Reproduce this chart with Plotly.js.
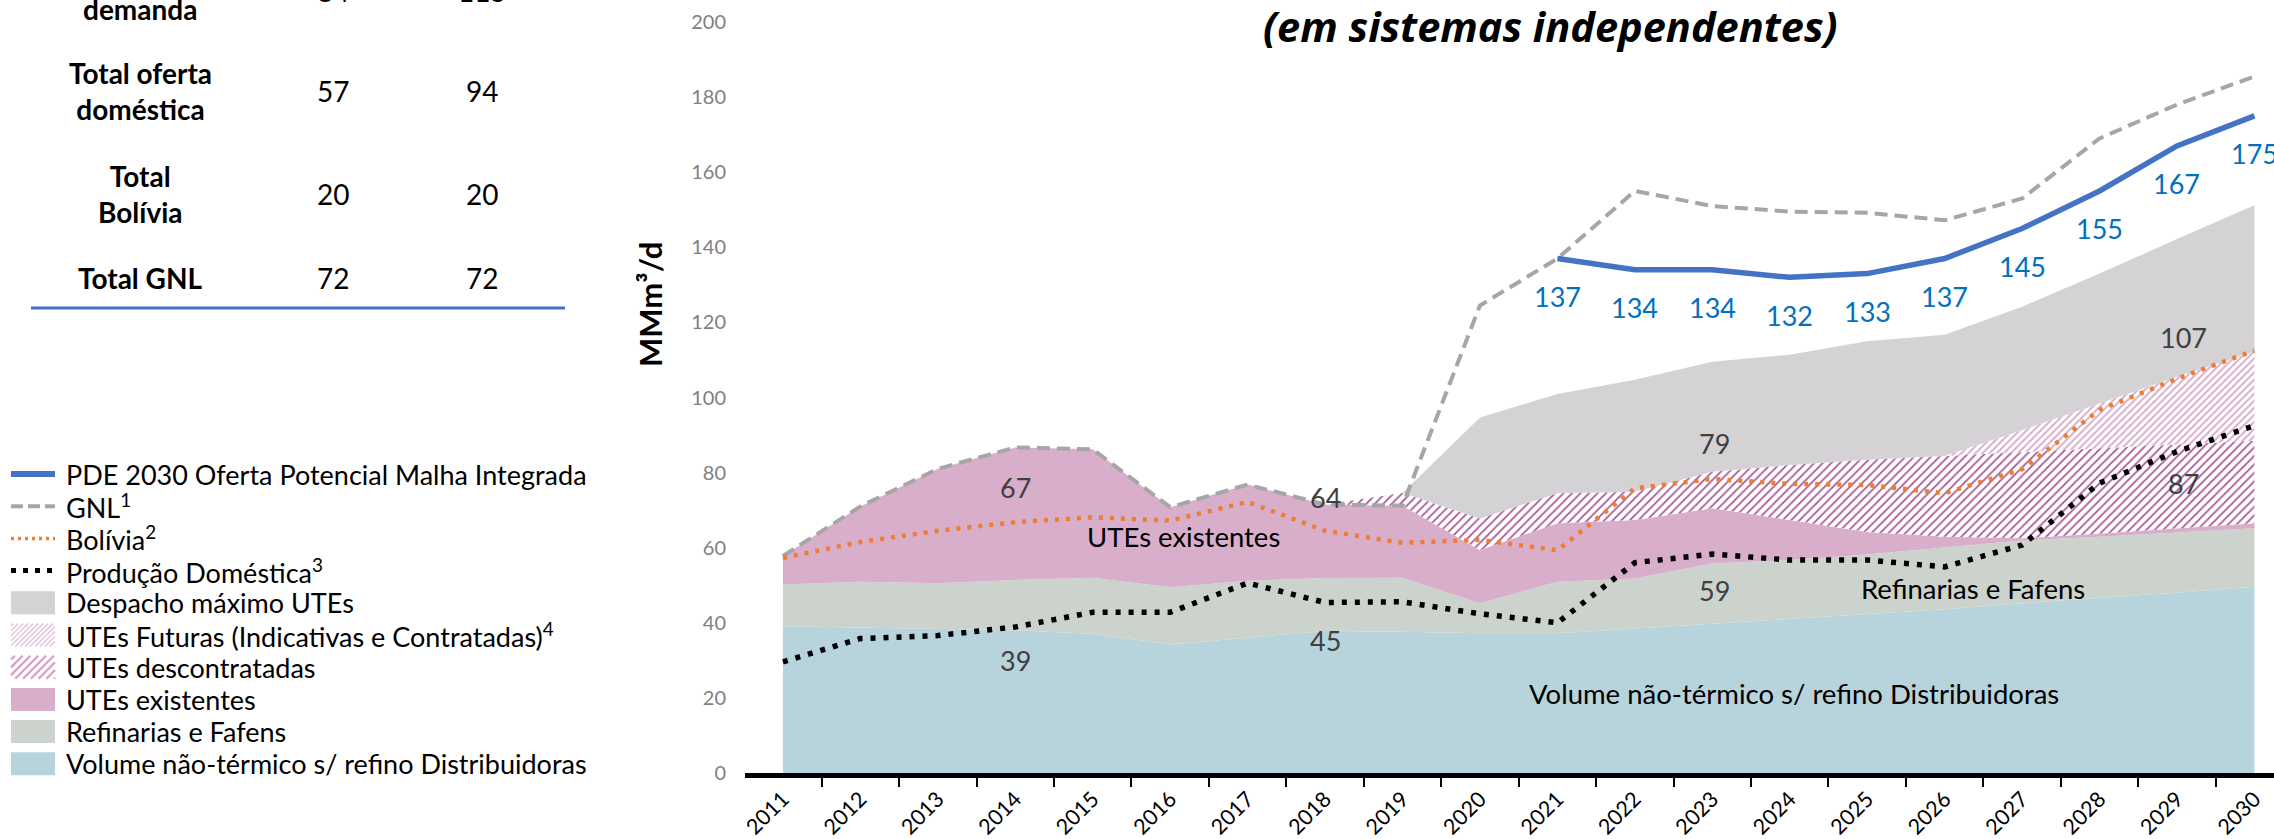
<!DOCTYPE html>
<html>
<head>
<meta charset="utf-8">
<script src="https://cdn.plot.ly/plotly-3.0.1.min.js"></script>
<style>
html,body{margin:0;padding:0;background:#ffffff;}
#chart{width:2274px;height:839px;}
</style>
</head>
<body>
<div id="chart"></div>
<script>
// ---------------- DATA ----------------
const years = ['2011','2012','2013','2014','2015','2016','2017','2018','2019','2020',
               '2021','2022','2023','2024','2025','2026','2027','2028','2029','2030'];

// stacked areas: cumulative top of each layer (MMm³/d)
const volumeTop        = [39.1,38.7,38.2,38.0,37.1,34.2,36.0,37.8,37.6,37.2,37.2,38.5,39.6,40.9,42.2,43.6,45.2,46.5,48.0,49.6];
const refinariasTop    = [50.2,50.9,50.5,51.4,52.0,49.5,51.2,51.9,52.0,45.2,50.9,51.8,55.8,56.7,58.2,60.0,61.9,62.9,64.0,65.2];
const existentesTop    = [57.8,71.0,81.0,86.7,86.2,70.8,76.8,71.5,71.2,59.4,66.5,67.4,70.5,67.4,64.2,62.9,62.5,63.8,65.2,66.5];
const descontratadasTop= [57.8,71.0,81.0,86.7,86.2,70.8,76.8,71.5,74.6,67.8,74.5,74.9,80.2,82.0,83.4,84.5,85.5,86.5,87.5,88.5];
const futurasTop       = [57.8,71.0,81.0,86.7,86.2,70.8,76.8,71.5,74.6,67.8,74.5,74.9,80.2,82.0,83.4,84.5,91.3,98.5,105.5,112.2];
const despachoTop      = [57.8,71.0,81.0,86.7,86.2,70.8,76.8,71.5,74.6,94.7,100.9,104.7,109.5,111.4,115.0,116.7,124.2,133.0,142.2,151.2];

// supply lines (cumulative)
const gnl       = [57.8,71.0,81.0,86.7,86.2,70.8,76.8,71.5,71.2,124.5,137.0,155.0,151.0,149.5,149.2,147.2,153.0,169.0,178.0,185.5];
const bolivia   = [57.3,61.5,64.5,66.8,68.1,67.2,72.2,64.5,61.3,62.1,59.3,75.8,78.3,77.0,76.7,74.5,80.9,96.7,105.0,112.5];
const producao  = [29.6,35.8,36.6,38.9,42.8,42.8,50.6,45.4,45.6,42.4,40.0,56.0,58.3,56.7,56.7,54.9,60.7,77.2,85.6,92.5];
const pdeYears  = ['2021','2022','2023','2024','2025','2026','2027','2028','2029','2030'];
const pde       = [137,134,134,132,133,137,145,155,167,175];

// table
const tableRows = ['Total<br>demanda','Total oferta<br>doméstica','Total<br>Bolívia','Total GNL'];
const tableCol1 = ['84','57','20','72'];
const tableCol2 = ['115','94','20','72'];

// in-chart labels (x as category index, y in MMm³/d)
const noteTexts = ['67','64','UTEs existentes','39','45','79','59','Refinarias e Fafens',
                   'Volume não-térmico s/ refino Distribuidoras','107','87'];
const noteX     = [3.0,7.0,5.17,3.0,7.0,12.03,12.03,15.36,13.05,18.08,18.08];
const noteY     = [76,73.5,63.1,30,35.3,87.7,48.6,49.2,21.2,116,77];

// legend
const legendLabels = ['PDE 2030 Oferta Potencial Malha Integrada','GNL<sup>1</sup>','Bolívia<sup>2</sup>',
  'Produção Doméstica<sup>3</sup>','Despacho máximo UTEs','UTEs Futuras (Indicativas e Contratadas)<sup>4</sup>',
  'UTEs descontratadas','UTEs existentes','Refinarias e Fafens','Volume não-térmico s/ refino Distribuidoras'];

// ---------------- STYLE ----------------
const W = 2274, H = 839;
const PX = x => x / W;
const PY = y => 1 - y / H;
const FONT = 'Lato, "Open Sans", sans-serif';
const C = {
  volume:'#b7d4dc', refin:'#ccd3cc', exist:'#d9aecb', despacho:'#d4d2d4',
  desc:'#a95896', fut:'#d8a8ca', gnl:'#a6a6a6', bol:'#ed7d31', prod:'#000000', pde:'#4472c4',
  pdeText:'#0070c0', note:'#404040'
};

function area(y, fill, color, pattern){
  const t = {x:years, y:y, type:'scatter', mode:'lines', line:{width:0, color:color},
             fill:fill, fillcolor:color, hoverinfo:'skip'};
  if (pattern) t.fillpattern = pattern;
  return t;
}

const traces = [
  area(volumeTop,'tozeroy',C.volume),
  area(refinariasTop,'tonexty',C.refin),
  area(existentesTop,'tonexty',C.exist),
  area(descontratadasTop,'tonexty','#ffffff',{shape:'/',fgcolor:C.desc,bgcolor:'#ffffff',size:6,solidity:0.3}),
  area(futurasTop,'tonexty','#ffffff',{shape:'/',fgcolor:C.fut,bgcolor:'#ffffff',size:5,solidity:0.35}),
  area(despachoTop,'tonexty',C.despacho),
  {x:years, y:gnl, type:'scatter', mode:'lines', line:{color:C.gnl,width:4,dash:'13px,7px'}, hoverinfo:'skip'},
  {x:years, y:bolivia, type:'scatter', mode:'lines', line:{color:C.bol,width:4.5,dash:'4px,7px'}, hoverinfo:'skip'},
  {x:years, y:producao, type:'scatter', mode:'lines', line:{color:C.prod,width:5.5,dash:'5px,8px'}, hoverinfo:'skip'},
  {x:pdeYears, y:pde, type:'scatter', mode:'lines', line:{color:C.pde,width:5.5}, hoverinfo:'skip'}
];

const annotations = [];
const shapes = [];

// blue PDE labels (category index of each year)
pde.forEach((v,i)=>{
  annotations.push({x:years.indexOf(pdeYears[i]), y:v, xref:'x', yref:'y', text:String(v), showarrow:false,
    yshift:-38, font:{family:FONT,size:27,color:C.pdeText}});
});
// other chart labels
noteTexts.forEach((t,i)=>{
  const isNum = /^\d+$/.test(t);
  annotations.push({x:noteX[i], y:noteY[i], xref:'x', yref:'y', text:t, showarrow:false,
    font:{family:FONT,size:isNum?27:27.5,color:isNum?C.note:'#000000'}});
});

// title
annotations.push({x:PX(1550), y:PY(26), xref:'paper', yref:'paper', xanchor:'center', yanchor:'middle',
  text:'<b><i>(em sistemas independentes)</i></b>', showarrow:false,
  font:{family:'"Open Sans", Lato, sans-serif',size:41.5,color:'#000000'}});
// y axis title
annotations.push({x:PX(650), y:PY(305), xref:'paper', yref:'paper', xanchor:'center', yanchor:'middle',
  text:'<b>MMm³/d</b>', textangle:-90, showarrow:false, font:{family:FONT,size:31,color:'#000000'}});

// table
const rowCenters = [-9, 91, 194, 278];
tableRows.forEach((r,i)=>{
  annotations.push({x:PX(140), y:PY(rowCenters[i]), xref:'paper', yref:'paper', xanchor:'center', yanchor:'middle',
    text:'<b>'+r+'</b>', showarrow:false, align:'center', font:{family:FONT,size:28,color:'#000000'}});
  annotations.push({x:PX(333), y:PY(rowCenters[i]), xref:'paper', yref:'paper', xanchor:'center', yanchor:'middle',
    text:tableCol1[i], showarrow:false, font:{family:FONT,size:28,color:'#000000'}});
  annotations.push({x:PX(482), y:PY(rowCenters[i]), xref:'paper', yref:'paper', xanchor:'center', yanchor:'middle',
    text:tableCol2[i], showarrow:false, font:{family:FONT,size:28,color:'#000000'}});
});
shapes.push({type:'line', xref:'paper', yref:'paper', x0:PX(31), x1:PX(565), y0:PY(308), y1:PY(308),
  line:{color:'#4472c4', width:3}});

// legend (drawn manually)
const legendSym = [
  {k:'line',c:C.pde,w:6,d:'solid'},
  {k:'line',c:C.gnl,w:4,d:'12px,5px'},
  {k:'line',c:C.bol,w:3.5,d:'3px,4px'},
  {k:'line',c:C.prod,w:5,d:'5px,7px'},
  {k:'box',c:C.despacho},
  {k:'hatch',c:'#e4bcd8',s:3.5,w:1.2},
  {k:'hatch',c:'#d59fc6',s:5.5,w:2.2},
  {k:'box',c:C.exist},
  {k:'box',c:C.refin},
  {k:'box',c:C.volume}
];
const LX0 = 11, LX1 = 55, LTX = 64, LY0 = 474, LDY = 32.2, LH = 23;
function hatchPath(x0,y0,x1,y1,s){
  let p = '';
  const step = s*Math.SQRT2;
  for (let c = x0+y0+step/2; c < x1+y1; c += step){
    const xa = Math.max(x0, c-y1), xb = Math.min(x1, c-y0);
    if (xa < xb){
      p += 'M'+PX(xa).toFixed(5)+','+PY(c-xa).toFixed(5)+' L'+PX(xb).toFixed(5)+','+PY(c-xb).toFixed(5)+' ';
    }
  }
  return p;
}
legendLabels.forEach((lab,i)=>{
  const yc = LY0 + i*LDY;
  const s = legendSym[i];
  if (s.k==='line'){
    shapes.push({type:'line', xref:'paper', yref:'paper', x0:PX(LX0), x1:PX(LX1), y0:PY(yc), y1:PY(yc),
      line:{color:s.c, width:s.w, dash:s.d}});
  } else if (s.k==='box'){
    shapes.push({type:'rect', xref:'paper', yref:'paper', x0:PX(LX0), x1:PX(LX1), y0:PY(yc-LH/2), y1:PY(yc+LH/2),
      fillcolor:s.c, line:{width:0}});
  } else {
    shapes.push({type:'path', xref:'paper', yref:'paper', path:hatchPath(LX0,yc-LH/2,LX1,yc+LH/2,s.s),
      line:{color:s.c, width:s.w}});
  }
  annotations.push({x:PX(LTX), y:PY(yc), xref:'paper', yref:'paper', xanchor:'left', yanchor:'middle',
    text:lab, showarrow:false, font:{family:FONT,size:27,color:'#000000'}});
});

const layout = {
  width:W, height:H,
  margin:{l:0,r:0,t:0,b:0},
  paper_bgcolor:'#ffffff', plot_bgcolor:'#ffffff',
  showlegend:false,
  font:{family:FONT},
  xaxis:{
    type:'category', domain:[745/W, 1], range:[-0.49, 19.253],
    showline:true, linecolor:'#000000', linewidth:5,
    ticks:'outside', tickson:'boundaries', ticklen:9, tickwidth:2, tickcolor:'#000000',
    tickangle:-45, tickfont:{family:FONT,size:21.5,color:'#000000'},
    showgrid:false, zeroline:false, fixedrange:true, automargin:false
  },
  yaxis:{
    domain:[66/H, 1-22/H], range:[0,200], tick0:0, dtick:20,
    showgrid:false, zeroline:false, showline:false, ticks:'',
    tickfont:{family:FONT,size:20,color:'#7f7f7f'}, ticklabelstandoff:18,
    fixedrange:true, automargin:false
  },
  annotations:annotations,
  shapes:shapes
};

Plotly.newPlot('chart', traces, layout, {staticPlot:true, displayModeBar:false});
</script>
</body>
</html>
